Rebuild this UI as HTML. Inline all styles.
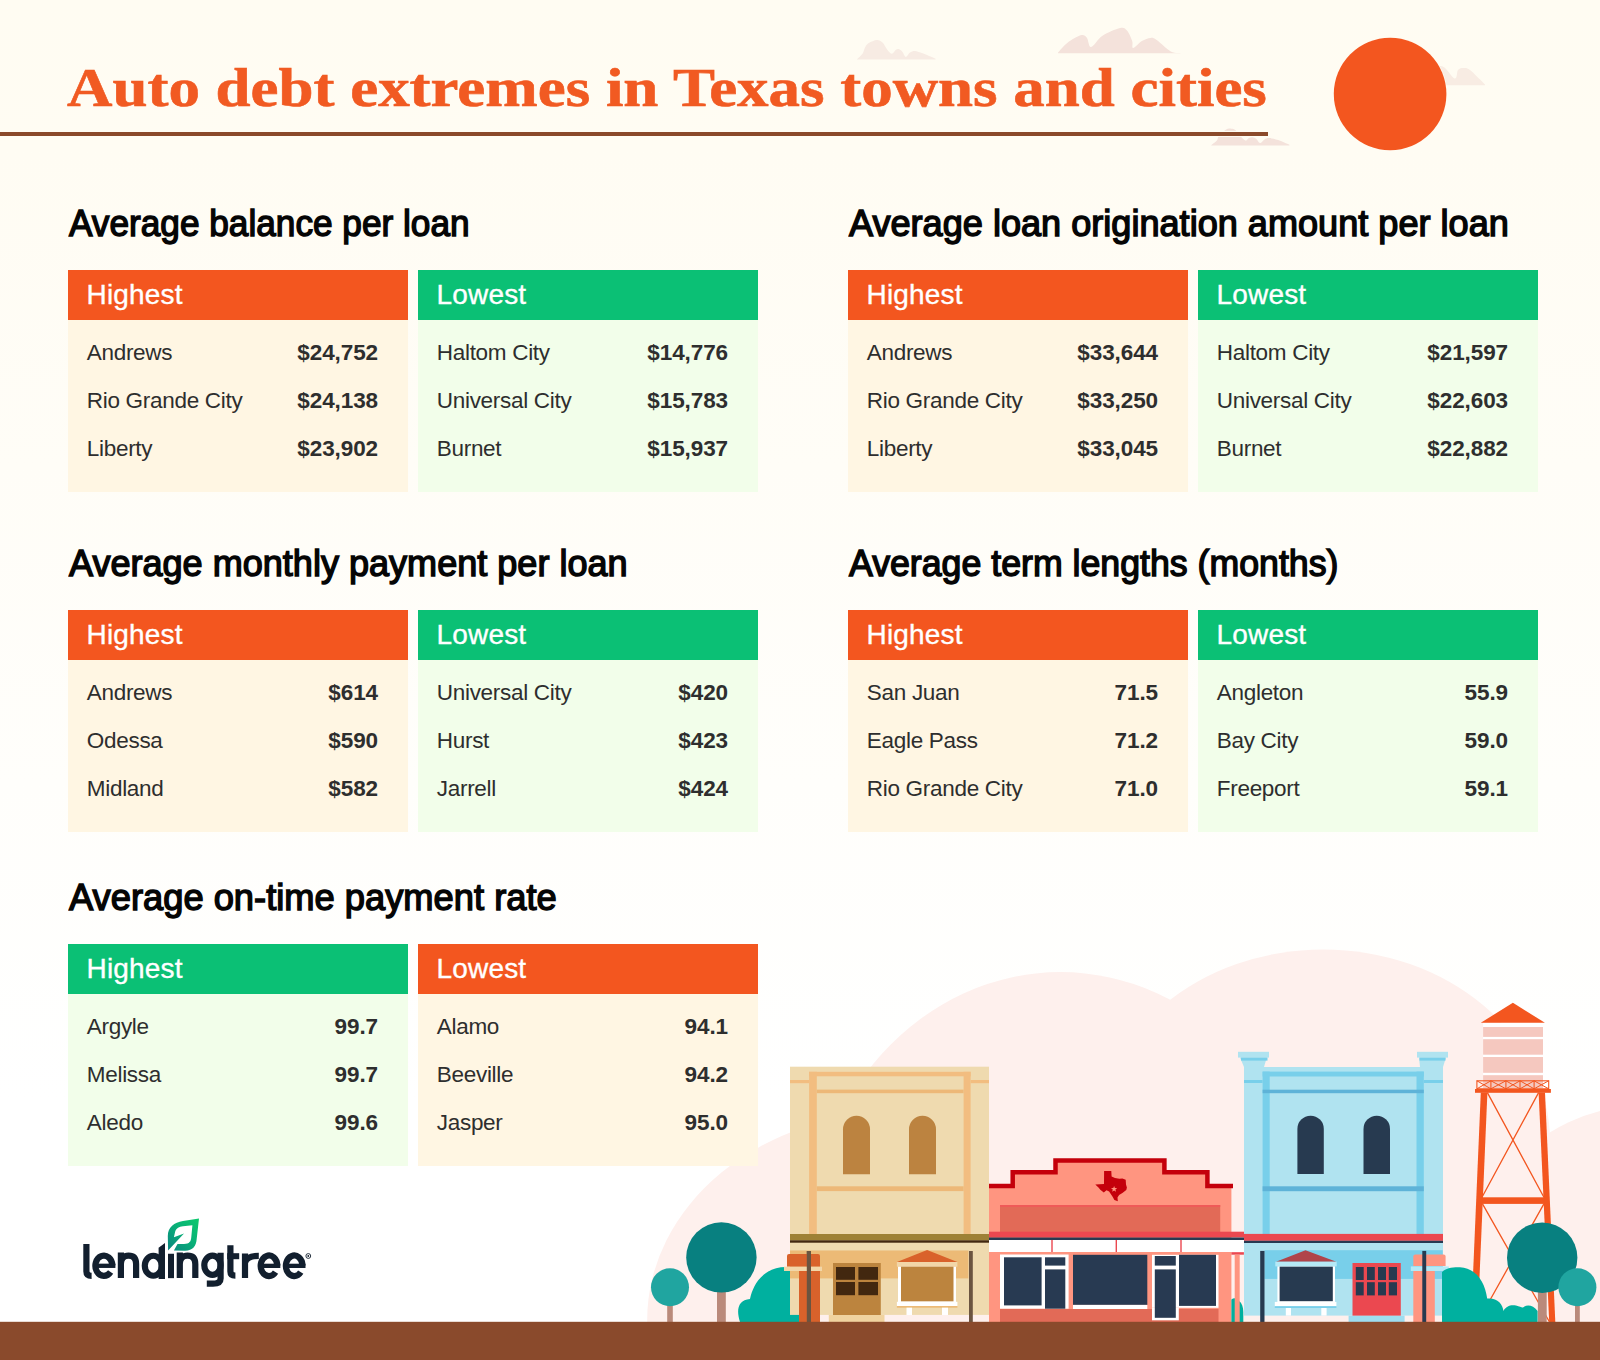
<!DOCTYPE html>
<html><head><meta charset="utf-8"><title>Auto debt extremes in Texas towns and cities</title>
<style>
html,body{margin:0;padding:0;}
body{width:1600px;height:1360px;position:relative;overflow:hidden;background:linear-gradient(to bottom,#FFFCF2 0px,#FFFCF3 150px,#FFFFFF 1100px);font-family:'Liberation Sans', sans-serif;}
svg{position:absolute;left:0;top:0;}
</style></head>
<body>
<svg width="1600" height="200" viewBox="0 0 1600 200" style="position:absolute;left:0;top:0">
<path d="M856.9,59.4 C857.8,58.5 861.1,55.7 862.5,53.8 C863.9,51.8 864.0,49.3 865.0,47.5 C866.0,45.7 866.8,44.4 868.8,43.1 C870.7,41.9 874.6,40.1 876.9,40.0 C879.2,39.9 880.7,40.8 882.5,42.5 C884.3,44.2 885.9,48.1 887.5,50.0 C889.1,51.9 890.5,53.8 891.9,53.8 C893.2,53.8 894.5,50.8 895.6,50.0 C896.7,49.2 897.6,48.8 898.8,49.1 C899.9,49.4 901.3,50.6 902.5,51.9 C903.7,53.2 904.6,56.8 905.9,56.9 C907.1,57.0 908.5,53.5 910.0,52.5 C911.5,51.5 913.0,50.8 915.0,50.9 C917.0,51.0 918.5,51.8 921.9,53.1 C925.3,54.4 933.3,57.8 935.6,58.8 L935.6,59.5 L856.9,59.5 Z" fill="#F7EBE3"/>
<path d="M1057.9,52.8 C1059.5,51.1 1063.7,45.7 1067.5,42.8 C1071.3,39.8 1077.4,36.2 1080.6,35.3 C1083.8,34.4 1085.0,35.5 1086.7,37.5 C1088.5,39.5 1088.5,47.4 1091.1,47.1 C1093.7,46.8 1097.7,38.9 1102.5,35.8 C1107.3,32.6 1115.9,28.9 1120.0,28.0 C1124.1,27.1 1125.0,28.3 1127.0,30.5 C1129.0,32.7 1131.2,38.1 1132.2,41.0 C1133.2,43.9 1131.5,48.0 1133.1,48.0 C1134.7,48.0 1139.0,42.7 1141.9,41.0 C1144.8,39.3 1148.1,38.0 1150.6,37.9 C1153.1,37.8 1153.3,37.8 1156.7,40.1 C1160.1,42.4 1166.8,49.3 1170.7,51.5 C1174.7,53.7 1178.8,52.8 1180.4,53.1 L1180.4,53.3 L1057.9,53.3 Z" fill="#F4E2DB"/>
<path d="M1211.2,145.3 C1212.2,144.5 1215.7,142.1 1216.9,140.6 C1218.2,139.1 1217.2,138.1 1218.8,136.2 C1220.3,134.4 1224.2,130.7 1226.2,129.4 C1228.3,128.2 1229.7,128.6 1231.2,128.8 C1232.8,128.9 1234.0,129.1 1235.6,130.3 C1237.2,131.6 1238.9,134.5 1240.6,136.2 C1242.3,138.0 1244.2,140.3 1245.6,140.6 C1247.0,140.9 1247.6,138.7 1248.8,138.1 C1249.9,137.5 1251.2,137.1 1252.5,137.2 C1253.8,137.3 1255.0,137.8 1256.2,138.8 C1257.5,139.7 1258.6,143.0 1260.0,143.1 C1261.4,143.2 1262.8,140.2 1264.4,139.4 C1266.0,138.6 1267.1,138.0 1269.4,138.1 C1271.7,138.2 1274.8,138.9 1278.1,140.0 C1281.4,141.1 1287.5,143.9 1289.4,144.7 L1289.4,145.6 L1211.25,145.6 Z" fill="#F4E2DB"/>
<path d="M1420.0,85.0 C1423.3,81.8 1434.2,67.1 1440.0,66.0 C1445.8,64.9 1451.5,77.8 1454.5,78.5 C1457.5,79.2 1456.5,71.8 1458.0,70.0 C1459.5,68.2 1461.5,68.0 1463.5,68.0 C1465.5,68.0 1466.4,67.2 1470.0,70.0 C1473.6,72.8 1482.5,82.1 1485.0,84.5 L1485,85.2 L1420,85.2 Z" fill="#F8ECE3"/>
<rect x="1205" y="130.9" width="63.8" height="6" fill="#FFFCF3"/>
<circle cx="1390.1" cy="94" r="57" fill="#FFFCF3"/>
<circle cx="1390.1" cy="94" r="56.3" fill="#F3561F"/>
</svg>
<svg width="1600" height="1360" viewBox="0 0 1600 1360" style="position:absolute;left:0;top:0">
<g fill="#FEF0ED"><ellipse cx="900.7" cy="1319.9" rx="253.5" ry="208.3"/><ellipse cx="1060.5" cy="1250" rx="252.2" ry="277.9"/><ellipse cx="1323.3" cy="1141.1" rx="226.7" ry="191.6"/><ellipse cx="1640" cy="1322" rx="188" ry="216"/><rect x="829" y="1140" width="771" height="182"/></g>
<rect x="667.2" y="1300" width="5.60" height="22.00" fill="#BA8A7B"/>
<circle cx="670" cy="1287.3" r="19" fill="#20A5A0"/>
<rect x="717" y="1280" width="8.80" height="42.00" fill="#BA8A7B"/>
<circle cx="721.4" cy="1257.4" r="35.2" fill="#088080"/>
<path d="M740,1322 C736,1310 738,1300 750,1299 C752,1290 756,1280 766,1273 C772,1269 778,1267 786,1267 L800,1267 L800,1322 Z" fill="#00B09F"/>
<rect x="790" y="1066.7" width="199.00" height="255.30" fill="#EFDAAF"/>
<rect x="809.1" y="1071.8" width="7.70" height="162.20" fill="#F2BD80"/>
<rect x="963.6" y="1071.8" width="7.00" height="162.20" fill="#F2BD80"/>
<rect x="809.1" y="1071.8" width="161.50" height="4.50" fill="#F2BD80"/>
<rect x="790" y="1080" width="19.10" height="3.20" fill="#F2BD80"/>
<rect x="970.6" y="1080" width="18.40" height="3.20" fill="#F2BD80"/>
<rect x="816.8" y="1089.6" width="146.80" height="3.60" fill="#EDB878"/>
<rect x="816.8" y="1186.3" width="146.80" height="4.80" fill="#EDB878"/>
<path d="M843,1174.3 L843,1129.3 A13.5,13.5 0 0 1 870,1129.3 L870,1174.3 Z" fill="#BC8340"/>
<path d="M909,1174.3 L909,1129.3 A13.5,13.5 0 0 1 936,1129.3 L936,1174.3 Z" fill="#BC8340"/>
<rect x="790" y="1234" width="199.00" height="6.30" fill="#9E8136"/>
<rect x="790" y="1240.3" width="199.00" height="2.40" fill="#42270F"/>
<rect x="790" y="1250.5" width="178.40" height="27.90" fill="#ECBA76"/>
<rect x="790" y="1314.9" width="199.00" height="7.10" fill="#FEF0ED"/>
<rect x="828.8" y="1314.9" width="55.70" height="7.10" fill="#F0D3A0"/>
<rect x="790" y="1314.9" width="9.00" height="7.10" fill="#00B09F"/>
<rect x="833" y="1263" width="47.80" height="52.00" fill="#BC843E"/>
<rect x="836" y="1267" width="19.00" height="12.80" fill="#42270F"/>
<rect x="836" y="1282" width="19.00" height="13.20" fill="#42270F"/>
<rect x="858.4" y="1267" width="19.60" height="12.80" fill="#42270F"/>
<rect x="858.4" y="1282" width="19.60" height="13.20" fill="#42270F"/>
<polygon points="927.1,1250 896.9,1262 957.4,1262" fill="#D9622B"/>
<rect x="896.9" y="1262" width="60.50" height="4.70" fill="#F2D6A8"/>
<rect x="898" y="1266.7" width="58.00" height="37.90" fill="#FFFFFF"/>
<rect x="901" y="1266.7" width="52.50" height="34.70" fill="#BC843E"/>
<rect x="896.9" y="1301.8" width="60.50" height="4.20" fill="#FFFFFF"/>
<rect x="896.9" y="1306" width="60.50" height="1.70" fill="#ECBA76"/>
<rect x="906.5" y="1307.7" width="5.50" height="7.30" fill="#FFFFFF"/>
<rect x="942" y="1307.7" width="6.00" height="7.30" fill="#FFFFFF"/>
<rect x="806.8" y="1251" width="4.20" height="71.00" fill="#6B5440"/>
<rect x="969" y="1251" width="3.80" height="71.00" fill="#6B5440"/>
<path d="M787,1266.7 L787,1256 Q787,1254 789,1254 L818,1254 Q820,1254 820,1256 L820,1266.7 Z" fill="#D9622B"/>
<rect x="784" y="1266.7" width="38.00" height="4.30" fill="#F2D6A8"/>
<rect x="799" y="1271" width="21.00" height="51.00" fill="#D9622B"/>
<rect x="806.8" y="1251" width="4.20" height="71.00" fill="#6B5440"/>
<polygon points="989,1186 1012.7,1186 1012.7,1172.3 1055.5,1172.3 1055.5,1160.5 1164.4,1160.5 1164.4,1172.3 1207.4,1172.3 1207.4,1186 1231.4,1186 1231.4,1322 989,1322" fill="#FF9580"/>
<polyline points="989,1186 1012.7,1186 1012.7,1172.3 1055.5,1172.3 1055.5,1160.5 1164.4,1160.5 1164.4,1172.3 1207.4,1172.3 1207.4,1186 1233,1186" fill="none" stroke="#C4000B" stroke-width="4.5" stroke-linejoin="miter"/>
<rect x="1000" y="1205" width="220.20" height="27.00" fill="#E26A57"/>
<rect x="1000" y="1205" width="220.20" height="2.00" fill="#EF5A58"/>
<polygon points="1104.1,1170.9 1111.3,1170.9 1111.6,1176.6 1115,1177.9 1119.4,1178.8 1122.4,1178.4 1125.7,1179.7 1126,1184.4 1126.9,1187.4 1126.3,1190 1122.4,1192.9 1119.1,1195 1117.5,1197.4 1117.8,1201.2 1114.4,1200 1112.6,1196.8 1109.1,1191.5 1106.5,1190.3 1103.8,1192.4 1100.3,1189.7 1098.5,1187.4 1095.3,1184.4 1104,1184.1" fill="#C4000B"/>
<polygon points="1114.1,1185.9 1114.89,1188.11 1117.24,1188.18 1115.38,1189.62 1116.04,1191.87 1114.1,1190.55 1112.16,1191.87 1112.82,1189.62 1110.96,1188.18 1113.31,1188.11" fill="#FF9580"/>
<rect x="989" y="1231.7" width="255.20" height="5.80" fill="#EB4850"/>
<rect x="989" y="1237.5" width="255.20" height="2.50" fill="#273A52"/>
<rect x="989" y="1240" width="255.20" height="12.00" fill="#FFFFFF"/>
<rect x="1051.3" y="1240" width="1.40" height="12.00" fill="#EB4850"/>
<rect x="1115.6" y="1240" width="1.40" height="12.00" fill="#EB4850"/>
<rect x="1180.3" y="1240" width="1.40" height="12.00" fill="#EB4850"/>
<rect x="1231.4" y="1252.2" width="12.50" height="2.50" fill="#EB4850"/>
<path d="M1231.4,1322 L1231.4,1299.5 C1234,1297.5 1237,1298 1239,1301 C1242,1303 1243.3,1307 1243.3,1312 L1243.3,1322 Z" fill="#00B09F"/>
<rect x="1234.7" y="1254.7" width="5.00" height="67.30" fill="#FF9580"/>
<rect x="1000" y="1309" width="218.50" height="13.00" fill="#E26A57"/>
<rect x="1000" y="1254.5" width="68.60" height="54.20" fill="#FFFFFF"/>
<rect x="1004" y="1257.3" width="37.60" height="48.10" fill="#283A52"/>
<rect x="1045" y="1257.3" width="20.30" height="8.30" fill="#283A52"/>
<rect x="1045" y="1269.4" width="20.30" height="39.30" fill="#283A52"/>
<rect x="1073" y="1254.8" width="74.30" height="50.10" fill="#283A52"/>
<rect x="1073" y="1304.9" width="74.30" height="4.10" fill="#FFFFFF"/>
<rect x="1152" y="1254.8" width="66.50" height="53.00" fill="#FFFFFF"/>
<rect x="1152" y="1307.8" width="26.80" height="12.50" fill="#FFFFFF"/>
<rect x="1154.8" y="1256" width="21.00" height="9.60" fill="#283A52"/>
<rect x="1154.8" y="1269.4" width="21.00" height="48.40" fill="#283A52"/>
<rect x="1179" y="1254.8" width="37.00" height="51.10" fill="#283A52"/>
<rect x="1244" y="1067" width="199.00" height="255.00" fill="#B0E3F0"/>
<rect x="1238" y="1051.8" width="31.00" height="5.80" fill="#B0E3F0"/>
<polygon points="1240,1057.6 1266.8,1057.6 1264,1067 1244,1067" fill="#B0E3F0"/>
<rect x="1241" y="1057.6" width="26.50" height="3.00" fill="#78CFEA"/>
<rect x="1417" y="1051.8" width="31.00" height="5.80" fill="#B0E3F0"/>
<polygon points="1419,1057.6 1446,1057.6 1443,1067 1420,1067" fill="#B0E3F0"/>
<rect x="1419.5" y="1057.6" width="26.00" height="3.00" fill="#78CFEA"/>
<rect x="1244" y="1080" width="18.60" height="3.00" fill="#78CFEA"/>
<rect x="1423.8" y="1080" width="19.20" height="3.00" fill="#78CFEA"/>
<rect x="1262.6" y="1071.6" width="7.10" height="162.40" fill="#78CFEA"/>
<rect x="1416.5" y="1071.6" width="7.30" height="162.40" fill="#78CFEA"/>
<rect x="1262.6" y="1071.6" width="161.20" height="4.90" fill="#78CFEA"/>
<rect x="1262.6" y="1089.7" width="161.20" height="3.50" fill="#5EB3D8"/>
<rect x="1262.6" y="1186.3" width="161.20" height="4.90" fill="#5EB3D8"/>
<path d="M1297.4,1174 L1297.4,1128.9 A13.199999999999932,13.199999999999932 0 0 1 1323.8,1128.9 L1323.8,1174 Z" fill="#273A50"/>
<path d="M1363.5,1174 L1363.5,1128.95 A13.25,13.25 0 0 1 1390,1128.95 L1390,1174 Z" fill="#273A50"/>
<rect x="1244" y="1233.9" width="199.00" height="6.90" fill="#EB4850"/>
<rect x="1244" y="1240.8" width="199.00" height="2.20" fill="#273A52"/>
<rect x="1264.5" y="1250.2" width="178.20" height="28.70" fill="#78CFEA"/>
<rect x="1244" y="1315.6" width="199.00" height="6.40" fill="#FEF0ED"/>
<rect x="1348.6" y="1315.6" width="56.00" height="6.40" fill="#9EDDF0"/>
<polygon points="1305.5,1250.2 1276,1261.7 1336.4,1261.7" fill="#B0444A"/>
<rect x="1275.3" y="1261.7" width="61.40" height="4.70" fill="#B5E9F6"/>
<rect x="1277.4" y="1266.4" width="57.60" height="36.20" fill="#FFFFFF"/>
<rect x="1279.6" y="1266.7" width="53.20" height="34.50" fill="#273A50"/>
<rect x="1274.8" y="1301.9" width="61.60" height="4.30" fill="#FFFFFF"/>
<rect x="1274.8" y="1306.2" width="61.60" height="1.80" fill="#78CFEA"/>
<rect x="1285.8" y="1308" width="5.20" height="7.60" fill="#FFFFFF"/>
<rect x="1321.3" y="1308" width="5.30" height="7.60" fill="#FFFFFF"/>
<rect x="1352.5" y="1263" width="48.30" height="52.60" fill="#EB4850"/>
<rect x="1355.8" y="1267" width="7.90" height="13.00" fill="#273A50"/>
<rect x="1355.8" y="1282.2" width="7.90" height="13.20" fill="#273A50"/>
<rect x="1367" y="1267" width="7.80" height="13.00" fill="#273A50"/>
<rect x="1367" y="1282.2" width="7.80" height="13.20" fill="#273A50"/>
<rect x="1378" y="1267" width="8.00" height="13.00" fill="#273A50"/>
<rect x="1378" y="1282.2" width="8.00" height="13.20" fill="#273A50"/>
<rect x="1388.8" y="1267" width="8.20" height="13.00" fill="#273A50"/>
<rect x="1388.8" y="1282.2" width="8.20" height="13.20" fill="#273A50"/>
<rect x="1260.2" y="1250.9" width="4.30" height="71.10" fill="#273A50"/>
<path d="M1413.3,1266 L1413.3,1256.5 Q1413.3,1254.5 1415.3,1254.5 L1443.6,1254.5 Q1445.6,1254.5 1445.6,1256.5 L1445.6,1266 Z" fill="#FF9580"/>
<rect x="1410.8" y="1266.4" width="38.00" height="4.60" fill="#B5E9F6"/>
<rect x="1413.3" y="1271" width="21.50" height="51.00" fill="#FF9580"/>
<rect x="1422.3" y="1250.9" width="3.90" height="71.10" fill="#273A50"/>
<polygon points="1512.9,1002.7 1480.8,1022.8 1544.9,1022.8" fill="#F3561F"/>
<rect x="1483.1" y="1023" width="59.90" height="65.00" fill="#FFFFFF"/>
<rect x="1483.1" y="1027" width="59.90" height="9.90" fill="#F5C8BF"/>
<rect x="1483.1" y="1039.2" width="59.90" height="15.50" fill="#F5C8BF"/>
<rect x="1483.1" y="1057" width="59.90" height="15.80" fill="#F5C8BF"/>
<rect x="1483.1" y="1075.2" width="59.90" height="12.80" fill="#F5C8BF"/>
<rect x="1476.9" y="1080.8" width="71.8" height="8" fill="none" stroke="#F3561F" stroke-width="1.1"/>
<path d="M1476.9,1080.8 L1490.9,1088.8 M1490.9,1080.8 L1476.9,1088.8" stroke="#F3561F" stroke-width="1" fill="none"/>
<path d="M1490.9,1080.8 L1505.9,1088.8 M1505.9,1080.8 L1490.9,1088.8" stroke="#F3561F" stroke-width="1" fill="none"/>
<path d="M1490.9,1080.8 L1490.9,1088.8" stroke="#F3561F" stroke-width="1.1"/>
<path d="M1505.9,1080.8 L1520,1088.8 M1520,1080.8 L1505.9,1088.8" stroke="#F3561F" stroke-width="1" fill="none"/>
<path d="M1505.9,1080.8 L1505.9,1088.8" stroke="#F3561F" stroke-width="1.1"/>
<path d="M1520,1080.8 L1534.1,1088.8 M1534.1,1080.8 L1520,1088.8" stroke="#F3561F" stroke-width="1" fill="none"/>
<path d="M1520,1080.8 L1520,1088.8" stroke="#F3561F" stroke-width="1.1"/>
<path d="M1534.1,1080.8 L1548.7,1088.8 M1548.7,1080.8 L1534.1,1088.8" stroke="#F3561F" stroke-width="1" fill="none"/>
<path d="M1534.1,1080.8 L1534.1,1088.8" stroke="#F3561F" stroke-width="1.1"/>
<rect x="1475" y="1089" width="75.90" height="3.80" fill="#F3561F"/>
<polygon points="1480.8,1092.6 1487.4,1092.6 1477.6,1322 1471,1322" fill="#F3561F"/>
<polygon points="1538.6,1092.6 1545,1092.6 1555.3,1322 1549.2,1322" fill="#F3561F"/>
<rect x="1482" y="1197.3" width="62.50" height="6.60" fill="#F3561F"/>
<path d="M1487.4,1092.6 L1543.9,1197.3 M1538.6,1092.6 L1482,1197.3 M1482.5,1203.9 L1549.5,1322 M1543.9,1203.9 L1477.7,1322" stroke="#F3561F" stroke-width="1.3" fill="none"/>
<path d="M1442,1322 L1442,1272 C1446,1268 1452,1267 1460,1267.2 C1476,1268 1485,1282 1487.2,1298.5 C1497,1297.5 1503,1304 1503.4,1311 C1506,1306 1511,1304.5 1516,1305.6 C1520,1306.5 1522,1308 1523,1307.5 C1527,1304 1533,1305 1537.6,1311 L1537.6,1322 Z" fill="#00B09F"/>
<rect x="1537.9" y="1285" width="8.80" height="37.00" fill="#BA8A7B"/>
<circle cx="1542.2" cy="1257.7" r="35.2" fill="#088080"/>
<rect x="1575" y="1300" width="4.80" height="22.00" fill="#BA8A7B"/>
<circle cx="1577.4" cy="1287.2" r="19" fill="#20A5A0"/>
<rect x="0" y="1321.8" width="1600.00" height="38.20" fill="#8A4A2C"/>
</svg>
<div style="position:absolute;left:0;top:132px;width:1268px;height:4px;background:#8B4A2B"></div>
<div style="position:absolute;left:67.0px;top:59.94px;font-family:'Liberation Serif', serif;font-size:55px;line-height:55px;font-weight:bold;color:#F15A22;letter-spacing:0px;white-space:nowrap;transform:scaleX(1.144205777368768);transform-origin:left top;-webkit-text-stroke:0.6px #F15A22;">Auto debt extremes in Texas towns and cities</div>
<div style="position:absolute;left:68.5px;top:205.18px;font-family:'Liberation Sans', sans-serif;font-size:37px;line-height:37px;font-weight:normal;color:#050505;letter-spacing:0px;white-space:nowrap;transform:scaleX(0.9513737523955598);transform-origin:left top;-webkit-text-stroke:1.45px #050505;">Average balance per loan</div><div style="position:absolute;left:68px;top:270px;width:340px;height:50px;background:#F3561F"></div>
<div style="position:absolute;left:68px;top:320px;width:340px;height:171.5px;background:#FFF6E3"></div>
<div style="position:absolute;left:86.6px;top:280.80px;font-family:'Liberation Sans', sans-serif;font-size:28px;line-height:28px;font-weight:normal;color:#FFFFFF;letter-spacing:0.15px;white-space:nowrap;-webkit-text-stroke:0.35px #FFFFFF;">Highest</div>
<div style="position:absolute;left:86.8px;top:341.75px;font-family:'Liberation Sans', sans-serif;font-size:22.5px;line-height:22.5px;font-weight:normal;color:#2E2E2E;letter-spacing:-0.3px;white-space:nowrap;">Andrews</div>
<div style="position:absolute;right:1222px;top:341.75px;font-family:'Liberation Sans', sans-serif;font-size:22.5px;line-height:22.5px;font-weight:bold;color:#2E2E2E;letter-spacing:-0.1px;white-space:nowrap;">$24,752</div>
<div style="position:absolute;left:86.8px;top:389.75px;font-family:'Liberation Sans', sans-serif;font-size:22.5px;line-height:22.5px;font-weight:normal;color:#2E2E2E;letter-spacing:-0.3px;white-space:nowrap;">Rio Grande City</div>
<div style="position:absolute;right:1222px;top:389.75px;font-family:'Liberation Sans', sans-serif;font-size:22.5px;line-height:22.5px;font-weight:bold;color:#2E2E2E;letter-spacing:-0.1px;white-space:nowrap;">$24,138</div>
<div style="position:absolute;left:86.8px;top:437.75px;font-family:'Liberation Sans', sans-serif;font-size:22.5px;line-height:22.5px;font-weight:normal;color:#2E2E2E;letter-spacing:-0.3px;white-space:nowrap;">Liberty</div>
<div style="position:absolute;right:1222px;top:437.75px;font-family:'Liberation Sans', sans-serif;font-size:22.5px;line-height:22.5px;font-weight:bold;color:#2E2E2E;letter-spacing:-0.1px;white-space:nowrap;">$23,902</div><div style="position:absolute;left:418px;top:270px;width:340px;height:50px;background:#0BC075"></div>
<div style="position:absolute;left:418px;top:320px;width:340px;height:171.5px;background:#F2FEEA"></div>
<div style="position:absolute;left:436.6px;top:280.80px;font-family:'Liberation Sans', sans-serif;font-size:28px;line-height:28px;font-weight:normal;color:#FFFFFF;letter-spacing:0.15px;white-space:nowrap;-webkit-text-stroke:0.35px #FFFFFF;">Lowest</div>
<div style="position:absolute;left:436.8px;top:341.75px;font-family:'Liberation Sans', sans-serif;font-size:22.5px;line-height:22.5px;font-weight:normal;color:#2E2E2E;letter-spacing:-0.3px;white-space:nowrap;">Haltom City</div>
<div style="position:absolute;right:872px;top:341.75px;font-family:'Liberation Sans', sans-serif;font-size:22.5px;line-height:22.5px;font-weight:bold;color:#2E2E2E;letter-spacing:-0.1px;white-space:nowrap;">$14,776</div>
<div style="position:absolute;left:436.8px;top:389.75px;font-family:'Liberation Sans', sans-serif;font-size:22.5px;line-height:22.5px;font-weight:normal;color:#2E2E2E;letter-spacing:-0.3px;white-space:nowrap;">Universal City</div>
<div style="position:absolute;right:872px;top:389.75px;font-family:'Liberation Sans', sans-serif;font-size:22.5px;line-height:22.5px;font-weight:bold;color:#2E2E2E;letter-spacing:-0.1px;white-space:nowrap;">$15,783</div>
<div style="position:absolute;left:436.8px;top:437.75px;font-family:'Liberation Sans', sans-serif;font-size:22.5px;line-height:22.5px;font-weight:normal;color:#2E2E2E;letter-spacing:-0.3px;white-space:nowrap;">Burnet</div>
<div style="position:absolute;right:872px;top:437.75px;font-family:'Liberation Sans', sans-serif;font-size:22.5px;line-height:22.5px;font-weight:bold;color:#2E2E2E;letter-spacing:-0.1px;white-space:nowrap;">$15,937</div><div style="position:absolute;left:849.0px;top:205.18px;font-family:'Liberation Sans', sans-serif;font-size:37px;line-height:37px;font-weight:normal;color:#050505;letter-spacing:0px;white-space:nowrap;transform:scaleX(0.9760122367311133);transform-origin:left top;-webkit-text-stroke:1.45px #050505;">Average loan origination amount per loan</div><div style="position:absolute;left:848px;top:270px;width:340px;height:50px;background:#F3561F"></div>
<div style="position:absolute;left:848px;top:320px;width:340px;height:171.5px;background:#FFF6E3"></div>
<div style="position:absolute;left:866.6px;top:280.80px;font-family:'Liberation Sans', sans-serif;font-size:28px;line-height:28px;font-weight:normal;color:#FFFFFF;letter-spacing:0.15px;white-space:nowrap;-webkit-text-stroke:0.35px #FFFFFF;">Highest</div>
<div style="position:absolute;left:866.8px;top:341.75px;font-family:'Liberation Sans', sans-serif;font-size:22.5px;line-height:22.5px;font-weight:normal;color:#2E2E2E;letter-spacing:-0.3px;white-space:nowrap;">Andrews</div>
<div style="position:absolute;right:442px;top:341.75px;font-family:'Liberation Sans', sans-serif;font-size:22.5px;line-height:22.5px;font-weight:bold;color:#2E2E2E;letter-spacing:-0.1px;white-space:nowrap;">$33,644</div>
<div style="position:absolute;left:866.8px;top:389.75px;font-family:'Liberation Sans', sans-serif;font-size:22.5px;line-height:22.5px;font-weight:normal;color:#2E2E2E;letter-spacing:-0.3px;white-space:nowrap;">Rio Grande City</div>
<div style="position:absolute;right:442px;top:389.75px;font-family:'Liberation Sans', sans-serif;font-size:22.5px;line-height:22.5px;font-weight:bold;color:#2E2E2E;letter-spacing:-0.1px;white-space:nowrap;">$33,250</div>
<div style="position:absolute;left:866.8px;top:437.75px;font-family:'Liberation Sans', sans-serif;font-size:22.5px;line-height:22.5px;font-weight:normal;color:#2E2E2E;letter-spacing:-0.3px;white-space:nowrap;">Liberty</div>
<div style="position:absolute;right:442px;top:437.75px;font-family:'Liberation Sans', sans-serif;font-size:22.5px;line-height:22.5px;font-weight:bold;color:#2E2E2E;letter-spacing:-0.1px;white-space:nowrap;">$33,045</div><div style="position:absolute;left:1198px;top:270px;width:340px;height:50px;background:#0BC075"></div>
<div style="position:absolute;left:1198px;top:320px;width:340px;height:171.5px;background:#F2FEEA"></div>
<div style="position:absolute;left:1216.6px;top:280.80px;font-family:'Liberation Sans', sans-serif;font-size:28px;line-height:28px;font-weight:normal;color:#FFFFFF;letter-spacing:0.15px;white-space:nowrap;-webkit-text-stroke:0.35px #FFFFFF;">Lowest</div>
<div style="position:absolute;left:1216.8px;top:341.75px;font-family:'Liberation Sans', sans-serif;font-size:22.5px;line-height:22.5px;font-weight:normal;color:#2E2E2E;letter-spacing:-0.3px;white-space:nowrap;">Haltom City</div>
<div style="position:absolute;right:92px;top:341.75px;font-family:'Liberation Sans', sans-serif;font-size:22.5px;line-height:22.5px;font-weight:bold;color:#2E2E2E;letter-spacing:-0.1px;white-space:nowrap;">$21,597</div>
<div style="position:absolute;left:1216.8px;top:389.75px;font-family:'Liberation Sans', sans-serif;font-size:22.5px;line-height:22.5px;font-weight:normal;color:#2E2E2E;letter-spacing:-0.3px;white-space:nowrap;">Universal City</div>
<div style="position:absolute;right:92px;top:389.75px;font-family:'Liberation Sans', sans-serif;font-size:22.5px;line-height:22.5px;font-weight:bold;color:#2E2E2E;letter-spacing:-0.1px;white-space:nowrap;">$22,603</div>
<div style="position:absolute;left:1216.8px;top:437.75px;font-family:'Liberation Sans', sans-serif;font-size:22.5px;line-height:22.5px;font-weight:normal;color:#2E2E2E;letter-spacing:-0.3px;white-space:nowrap;">Burnet</div>
<div style="position:absolute;right:92px;top:437.75px;font-family:'Liberation Sans', sans-serif;font-size:22.5px;line-height:22.5px;font-weight:bold;color:#2E2E2E;letter-spacing:-0.1px;white-space:nowrap;">$22,882</div><div style="position:absolute;left:68.5px;top:545.18px;font-family:'Liberation Sans', sans-serif;font-size:37px;line-height:37px;font-weight:normal;color:#050505;letter-spacing:0px;white-space:nowrap;transform:scaleX(0.9746175757008524);transform-origin:left top;-webkit-text-stroke:1.45px #050505;">Average monthly payment per loan</div><div style="position:absolute;left:68px;top:610px;width:340px;height:50px;background:#F3561F"></div>
<div style="position:absolute;left:68px;top:660px;width:340px;height:171.5px;background:#FFF6E3"></div>
<div style="position:absolute;left:86.6px;top:620.80px;font-family:'Liberation Sans', sans-serif;font-size:28px;line-height:28px;font-weight:normal;color:#FFFFFF;letter-spacing:0.15px;white-space:nowrap;-webkit-text-stroke:0.35px #FFFFFF;">Highest</div>
<div style="position:absolute;left:86.8px;top:681.75px;font-family:'Liberation Sans', sans-serif;font-size:22.5px;line-height:22.5px;font-weight:normal;color:#2E2E2E;letter-spacing:-0.3px;white-space:nowrap;">Andrews</div>
<div style="position:absolute;right:1222px;top:681.75px;font-family:'Liberation Sans', sans-serif;font-size:22.5px;line-height:22.5px;font-weight:bold;color:#2E2E2E;letter-spacing:-0.1px;white-space:nowrap;">$614</div>
<div style="position:absolute;left:86.8px;top:729.75px;font-family:'Liberation Sans', sans-serif;font-size:22.5px;line-height:22.5px;font-weight:normal;color:#2E2E2E;letter-spacing:-0.3px;white-space:nowrap;">Odessa</div>
<div style="position:absolute;right:1222px;top:729.75px;font-family:'Liberation Sans', sans-serif;font-size:22.5px;line-height:22.5px;font-weight:bold;color:#2E2E2E;letter-spacing:-0.1px;white-space:nowrap;">$590</div>
<div style="position:absolute;left:86.8px;top:777.75px;font-family:'Liberation Sans', sans-serif;font-size:22.5px;line-height:22.5px;font-weight:normal;color:#2E2E2E;letter-spacing:-0.3px;white-space:nowrap;">Midland</div>
<div style="position:absolute;right:1222px;top:777.75px;font-family:'Liberation Sans', sans-serif;font-size:22.5px;line-height:22.5px;font-weight:bold;color:#2E2E2E;letter-spacing:-0.1px;white-space:nowrap;">$582</div><div style="position:absolute;left:418px;top:610px;width:340px;height:50px;background:#0BC075"></div>
<div style="position:absolute;left:418px;top:660px;width:340px;height:171.5px;background:#F2FEEA"></div>
<div style="position:absolute;left:436.6px;top:620.80px;font-family:'Liberation Sans', sans-serif;font-size:28px;line-height:28px;font-weight:normal;color:#FFFFFF;letter-spacing:0.15px;white-space:nowrap;-webkit-text-stroke:0.35px #FFFFFF;">Lowest</div>
<div style="position:absolute;left:436.8px;top:681.75px;font-family:'Liberation Sans', sans-serif;font-size:22.5px;line-height:22.5px;font-weight:normal;color:#2E2E2E;letter-spacing:-0.3px;white-space:nowrap;">Universal City</div>
<div style="position:absolute;right:872px;top:681.75px;font-family:'Liberation Sans', sans-serif;font-size:22.5px;line-height:22.5px;font-weight:bold;color:#2E2E2E;letter-spacing:-0.1px;white-space:nowrap;">$420</div>
<div style="position:absolute;left:436.8px;top:729.75px;font-family:'Liberation Sans', sans-serif;font-size:22.5px;line-height:22.5px;font-weight:normal;color:#2E2E2E;letter-spacing:-0.3px;white-space:nowrap;">Hurst</div>
<div style="position:absolute;right:872px;top:729.75px;font-family:'Liberation Sans', sans-serif;font-size:22.5px;line-height:22.5px;font-weight:bold;color:#2E2E2E;letter-spacing:-0.1px;white-space:nowrap;">$423</div>
<div style="position:absolute;left:436.8px;top:777.75px;font-family:'Liberation Sans', sans-serif;font-size:22.5px;line-height:22.5px;font-weight:normal;color:#2E2E2E;letter-spacing:-0.3px;white-space:nowrap;">Jarrell</div>
<div style="position:absolute;right:872px;top:777.75px;font-family:'Liberation Sans', sans-serif;font-size:22.5px;line-height:22.5px;font-weight:bold;color:#2E2E2E;letter-spacing:-0.1px;white-space:nowrap;">$424</div><div style="position:absolute;left:849.0px;top:545.18px;font-family:'Liberation Sans', sans-serif;font-size:37px;line-height:37px;font-weight:normal;color:#050505;letter-spacing:0px;white-space:nowrap;transform:scaleX(0.9648615824565278);transform-origin:left top;-webkit-text-stroke:1.45px #050505;">Average term lengths (months)</div><div style="position:absolute;left:848px;top:610px;width:340px;height:50px;background:#F3561F"></div>
<div style="position:absolute;left:848px;top:660px;width:340px;height:171.5px;background:#FFF6E3"></div>
<div style="position:absolute;left:866.6px;top:620.80px;font-family:'Liberation Sans', sans-serif;font-size:28px;line-height:28px;font-weight:normal;color:#FFFFFF;letter-spacing:0.15px;white-space:nowrap;-webkit-text-stroke:0.35px #FFFFFF;">Highest</div>
<div style="position:absolute;left:866.8px;top:681.75px;font-family:'Liberation Sans', sans-serif;font-size:22.5px;line-height:22.5px;font-weight:normal;color:#2E2E2E;letter-spacing:-0.3px;white-space:nowrap;">San Juan</div>
<div style="position:absolute;right:442px;top:681.75px;font-family:'Liberation Sans', sans-serif;font-size:22.5px;line-height:22.5px;font-weight:bold;color:#2E2E2E;letter-spacing:-0.1px;white-space:nowrap;">71.5</div>
<div style="position:absolute;left:866.8px;top:729.75px;font-family:'Liberation Sans', sans-serif;font-size:22.5px;line-height:22.5px;font-weight:normal;color:#2E2E2E;letter-spacing:-0.3px;white-space:nowrap;">Eagle Pass</div>
<div style="position:absolute;right:442px;top:729.75px;font-family:'Liberation Sans', sans-serif;font-size:22.5px;line-height:22.5px;font-weight:bold;color:#2E2E2E;letter-spacing:-0.1px;white-space:nowrap;">71.2</div>
<div style="position:absolute;left:866.8px;top:777.75px;font-family:'Liberation Sans', sans-serif;font-size:22.5px;line-height:22.5px;font-weight:normal;color:#2E2E2E;letter-spacing:-0.3px;white-space:nowrap;">Rio Grande City</div>
<div style="position:absolute;right:442px;top:777.75px;font-family:'Liberation Sans', sans-serif;font-size:22.5px;line-height:22.5px;font-weight:bold;color:#2E2E2E;letter-spacing:-0.1px;white-space:nowrap;">71.0</div><div style="position:absolute;left:1198px;top:610px;width:340px;height:50px;background:#0BC075"></div>
<div style="position:absolute;left:1198px;top:660px;width:340px;height:171.5px;background:#F2FEEA"></div>
<div style="position:absolute;left:1216.6px;top:620.80px;font-family:'Liberation Sans', sans-serif;font-size:28px;line-height:28px;font-weight:normal;color:#FFFFFF;letter-spacing:0.15px;white-space:nowrap;-webkit-text-stroke:0.35px #FFFFFF;">Lowest</div>
<div style="position:absolute;left:1216.8px;top:681.75px;font-family:'Liberation Sans', sans-serif;font-size:22.5px;line-height:22.5px;font-weight:normal;color:#2E2E2E;letter-spacing:-0.3px;white-space:nowrap;">Angleton</div>
<div style="position:absolute;right:92px;top:681.75px;font-family:'Liberation Sans', sans-serif;font-size:22.5px;line-height:22.5px;font-weight:bold;color:#2E2E2E;letter-spacing:-0.1px;white-space:nowrap;">55.9</div>
<div style="position:absolute;left:1216.8px;top:729.75px;font-family:'Liberation Sans', sans-serif;font-size:22.5px;line-height:22.5px;font-weight:normal;color:#2E2E2E;letter-spacing:-0.3px;white-space:nowrap;">Bay City</div>
<div style="position:absolute;right:92px;top:729.75px;font-family:'Liberation Sans', sans-serif;font-size:22.5px;line-height:22.5px;font-weight:bold;color:#2E2E2E;letter-spacing:-0.1px;white-space:nowrap;">59.0</div>
<div style="position:absolute;left:1216.8px;top:777.75px;font-family:'Liberation Sans', sans-serif;font-size:22.5px;line-height:22.5px;font-weight:normal;color:#2E2E2E;letter-spacing:-0.3px;white-space:nowrap;">Freeport</div>
<div style="position:absolute;right:92px;top:777.75px;font-family:'Liberation Sans', sans-serif;font-size:22.5px;line-height:22.5px;font-weight:bold;color:#2E2E2E;letter-spacing:-0.1px;white-space:nowrap;">59.1</div><div style="position:absolute;left:68.5px;top:879.18px;font-family:'Liberation Sans', sans-serif;font-size:37px;line-height:37px;font-weight:normal;color:#050505;letter-spacing:0px;white-space:nowrap;transform:scaleX(0.9812927048370141);transform-origin:left top;-webkit-text-stroke:1.45px #050505;">Average on-time payment rate</div><div style="position:absolute;left:68px;top:944px;width:340px;height:50px;background:#0BC075"></div>
<div style="position:absolute;left:68px;top:994px;width:340px;height:171.5px;background:#F2FEEA"></div>
<div style="position:absolute;left:86.6px;top:954.80px;font-family:'Liberation Sans', sans-serif;font-size:28px;line-height:28px;font-weight:normal;color:#FFFFFF;letter-spacing:0.15px;white-space:nowrap;-webkit-text-stroke:0.35px #FFFFFF;">Highest</div>
<div style="position:absolute;left:86.8px;top:1015.75px;font-family:'Liberation Sans', sans-serif;font-size:22.5px;line-height:22.5px;font-weight:normal;color:#2E2E2E;letter-spacing:-0.3px;white-space:nowrap;">Argyle</div>
<div style="position:absolute;right:1222px;top:1015.75px;font-family:'Liberation Sans', sans-serif;font-size:22.5px;line-height:22.5px;font-weight:bold;color:#2E2E2E;letter-spacing:-0.1px;white-space:nowrap;">99.7</div>
<div style="position:absolute;left:86.8px;top:1063.75px;font-family:'Liberation Sans', sans-serif;font-size:22.5px;line-height:22.5px;font-weight:normal;color:#2E2E2E;letter-spacing:-0.3px;white-space:nowrap;">Melissa</div>
<div style="position:absolute;right:1222px;top:1063.75px;font-family:'Liberation Sans', sans-serif;font-size:22.5px;line-height:22.5px;font-weight:bold;color:#2E2E2E;letter-spacing:-0.1px;white-space:nowrap;">99.7</div>
<div style="position:absolute;left:86.8px;top:1111.75px;font-family:'Liberation Sans', sans-serif;font-size:22.5px;line-height:22.5px;font-weight:normal;color:#2E2E2E;letter-spacing:-0.3px;white-space:nowrap;">Aledo</div>
<div style="position:absolute;right:1222px;top:1111.75px;font-family:'Liberation Sans', sans-serif;font-size:22.5px;line-height:22.5px;font-weight:bold;color:#2E2E2E;letter-spacing:-0.1px;white-space:nowrap;">99.6</div><div style="position:absolute;left:418px;top:944px;width:340px;height:50px;background:#F3561F"></div>
<div style="position:absolute;left:418px;top:994px;width:340px;height:171.5px;background:#FFF6E3"></div>
<div style="position:absolute;left:436.6px;top:954.80px;font-family:'Liberation Sans', sans-serif;font-size:28px;line-height:28px;font-weight:normal;color:#FFFFFF;letter-spacing:0.15px;white-space:nowrap;-webkit-text-stroke:0.35px #FFFFFF;">Lowest</div>
<div style="position:absolute;left:436.8px;top:1015.75px;font-family:'Liberation Sans', sans-serif;font-size:22.5px;line-height:22.5px;font-weight:normal;color:#2E2E2E;letter-spacing:-0.3px;white-space:nowrap;">Alamo</div>
<div style="position:absolute;right:872px;top:1015.75px;font-family:'Liberation Sans', sans-serif;font-size:22.5px;line-height:22.5px;font-weight:bold;color:#2E2E2E;letter-spacing:-0.1px;white-space:nowrap;">94.1</div>
<div style="position:absolute;left:436.8px;top:1063.75px;font-family:'Liberation Sans', sans-serif;font-size:22.5px;line-height:22.5px;font-weight:normal;color:#2E2E2E;letter-spacing:-0.3px;white-space:nowrap;">Beeville</div>
<div style="position:absolute;right:872px;top:1063.75px;font-family:'Liberation Sans', sans-serif;font-size:22.5px;line-height:22.5px;font-weight:bold;color:#2E2E2E;letter-spacing:-0.1px;white-space:nowrap;">94.2</div>
<div style="position:absolute;left:436.8px;top:1111.75px;font-family:'Liberation Sans', sans-serif;font-size:22.5px;line-height:22.5px;font-weight:normal;color:#2E2E2E;letter-spacing:-0.3px;white-space:nowrap;">Jasper</div>
<div style="position:absolute;right:872px;top:1111.75px;font-family:'Liberation Sans', sans-serif;font-size:22.5px;line-height:22.5px;font-weight:bold;color:#2E2E2E;letter-spacing:-0.1px;white-space:nowrap;">95.0</div>
<svg width="320" height="1300" viewBox="0 0 320 1300" style="position:absolute;left:0;top:0">
<defs><linearGradient id="lg" x1="168" y1="1250" x2="199" y2="1219" gradientUnits="userSpaceOnUse"><stop offset="0" stop-color="#0A8580"/><stop offset="0.55" stop-color="#09B277"/><stop offset="1" stop-color="#0BC96C"/></linearGradient></defs>
<path d="M199,1218.6 L183,1221 C174,1222.5 168,1227 167.8,1236 L168.1,1250.5 L184,1233.4 L173.9,1237.2 L175.2,1231.4 C176.5,1227.8 179,1226.8 183,1226.2 L192.4,1225.3 L191.3,1237 C191,1241.5 189.5,1243.8 184,1244 L177.5,1244 L173.9,1250.5 L185,1250.7 C193,1250.5 196.2,1246 196.7,1239 Z" fill="url(#lg)"/>
<g fill="none" stroke="#121F2E" stroke-width="6.2">
<path d="M86.4,1244 L86.4,1271.5 Q86.4,1275.8 91.6,1275.8"/>
<path d="M120.9,1278.1 L120.9,1252.6 M120.9,1264 C120.9,1258.5 124,1255.7 128.5,1255.7 C133.5,1255.7 136.1,1258.5 136.1,1264 L136.1,1278.1"/>
<ellipse cx="153.3" cy="1265.75" rx="8.5" ry="10"/>
<path d="M179.8,1278.1 L179.8,1252.6 M179.8,1264 C179.8,1258.5 182.9,1255.7 187.5,1255.7 C192.7,1255.7 195.3,1258.5 195.3,1264 L195.3,1278.1"/>
<ellipse cx="212.45" cy="1265.2" rx="8.15" ry="9.6"/>
<path d="M220.6,1252.8 L220.6,1278.5 Q220.6,1283.7 213,1283.7 L206.8,1283.7"/>
<path d="M230.4,1245.2 L230.4,1271.5 Q230.4,1275.7 235.4,1275.7"/>
<path d="M245,1278 L245,1253.6 M245,1263 C246,1258 250,1255.8 258.8,1255.8"/>
</g>
<path d="M112.40,1265.45 A8.5,10.05 0 1 0 110.60,1271.94" fill="none" stroke="#121F2E" stroke-width="6.2"/><rect x="94.40" y="1263.65" width="21.00" height="4.3" fill="#121F2E"/>
<path d="M277.30,1265.50 A8.3,10.3 0 1 0 275.54,1272.14" fill="none" stroke="#121F2E" stroke-width="6.2"/><rect x="259.70" y="1263.70" width="20.60" height="4.3" fill="#121F2E"/>
<path d="M302.50,1265.50 A8.3,10.3 0 1 0 300.74,1272.14" fill="none" stroke="#121F2E" stroke-width="6.2"/><rect x="284.90" y="1263.70" width="20.60" height="4.3" fill="#121F2E"/>
<polygon points="158.6,1247.75 165,1242.9 165,1278.9 158.6,1278.9" fill="#121F2E"/>
<rect x="168" y="1253.75" width="6" height="24.4" fill="#121F2E"/>
<rect x="227.2" y="1253.2" width="12" height="6" fill="#121F2E"/>
<circle cx="308.3" cy="1256" r="2.4" fill="none" stroke="#121F2E" stroke-width="0.9"/><circle cx="308.3" cy="1256" r="0.9" fill="#121F2E"/>
</svg>
</body></html>
